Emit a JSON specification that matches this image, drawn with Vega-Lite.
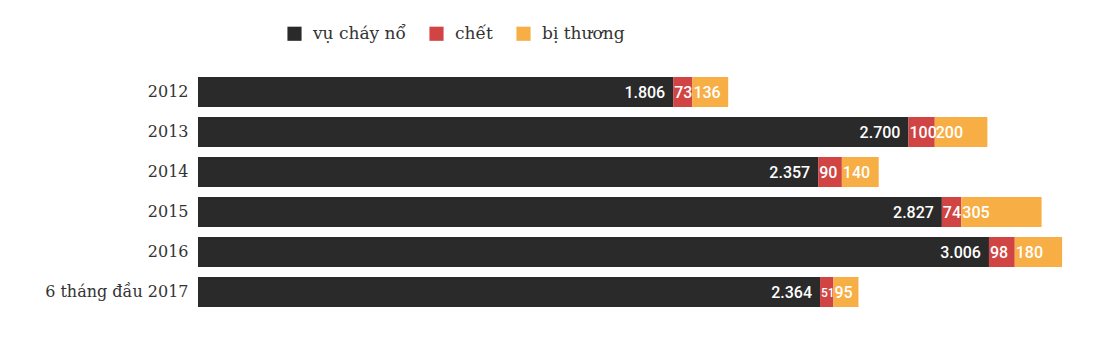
{
  "$schema": "https://vega.github.io/schema/vega-lite/v6.json",
  "width": 892,
  "height": 240,
  "autosize": {"type": "none"},
  "padding": {"left": 198, "top": 72, "right": 25, "bottom": 39},
  "background": "#ffffff",
  "config": {
    "view": {"stroke": null},
    "locale": {"number": {"decimal": ",", "thousands": ".", "grouping": [3], "currency": ["", ""]}}
  },
  "data": {
    "values": [
      {"year": "2012", "cat": "vụ cháy nổ", "ord": 1, "value": 1806},
      {"year": "2012", "cat": "chết", "ord": 2, "value": 73},
      {"year": "2012", "cat": "bị thương", "ord": 3, "value": 136},
      {"year": "2013", "cat": "vụ cháy nổ", "ord": 1, "value": 2700},
      {"year": "2013", "cat": "chết", "ord": 2, "value": 100},
      {"year": "2013", "cat": "bị thương", "ord": 3, "value": 200},
      {"year": "2014", "cat": "vụ cháy nổ", "ord": 1, "value": 2357},
      {"year": "2014", "cat": "chết", "ord": 2, "value": 90},
      {"year": "2014", "cat": "bị thương", "ord": 3, "value": 140},
      {"year": "2015", "cat": "vụ cháy nổ", "ord": 1, "value": 2827},
      {"year": "2015", "cat": "chết", "ord": 2, "value": 74},
      {"year": "2015", "cat": "bị thương", "ord": 3, "value": 305},
      {"year": "2016", "cat": "vụ cháy nổ", "ord": 1, "value": 3006},
      {"year": "2016", "cat": "chết", "ord": 2, "value": 98},
      {"year": "2016", "cat": "bị thương", "ord": 3, "value": 180},
      {"year": "6 tháng đầu 2017", "cat": "vụ cháy nổ", "ord": 1, "value": 2364},
      {"year": "6 tháng đầu 2017", "cat": "chết", "ord": 2, "value": 51},
      {"year": "6 tháng đầu 2017", "cat": "bị thương", "ord": 3, "value": 95}
    ]
  },
  "transform": [
    {"stack": "value", "groupby": ["year"], "sort": [{"field": "ord", "order": "ascending"}], "as": ["v0", "v1"]}
  ],
  "encoding": {
    "y": {
      "field": "year", "type": "nominal", "sort": null,
      "scale": {"paddingInner": 0.25, "paddingOuter": 0.125},
      "axis": {"title": null, "ticks": false, "domain": false, "labelPadding": 10,
               "labelFont": "DejaVu Serif", "labelFontSize": 16, "labelColor": "#333333"}
    }
  },
  "layer": [
    {
      "mark": {"type": "rect"},
      "encoding": {
        "x": {"field": "v0", "type": "quantitative", "scale": {"domain": [0, 3390], "nice": false}, "axis": null},
        "x2": {"field": "v1"},
        "color": {
          "field": "cat", "type": "nominal",
          "scale": {"domain": ["vụ cháy nổ", "chết", "bị thương"], "range": ["#2a2a2a", "#d04443", "#f7ae45"]},
          "legend": {
            "title": null, "orient": "none", "legendX": 88, "legendY": -47,
            "direction": "horizontal", "symbolType": "square", "symbolSize": 200,
            "symbolStrokeWidth": 0, "symbolOpacity": 1,
            "labelFont": "DejaVu Serif", "labelFontSize": 17, "labelColor": "#333333",
            "labelOffset": 10, "columnPadding": 22
          }
        }
      }
    },
    {
      "transform": [{"filter": "datum.ord == 1"}],
      "mark": {"type": "text", "align": "right", "baseline": "middle", "dx": -8, "dy": 1,
               "font": "Roboto", "fontWeight": 500, "fontSize": 16, "color": "#ffffff"},
      "encoding": {
        "x": {"field": "v1", "type": "quantitative"},
        "text": {"field": "value", "type": "quantitative", "format": ","}
      }
    },
    {
      "transform": [{"filter": "datum.ord > 1"}],
      "mark": {"type": "text", "align": "left", "baseline": "middle", "dx": 1, "dy": 1,
               "font": "Roboto", "fontWeight": 500, "color": "#ffffff"},
      "encoding": {
        "x": {"field": "v0", "type": "quantitative"},
        "text": {"field": "value", "type": "quantitative", "format": ","},
        "size": {"condition": {"test": "datum.ord == 2 && datum.value < 60", "value": 12}, "value": 16}
      }
    }
  ]
}
